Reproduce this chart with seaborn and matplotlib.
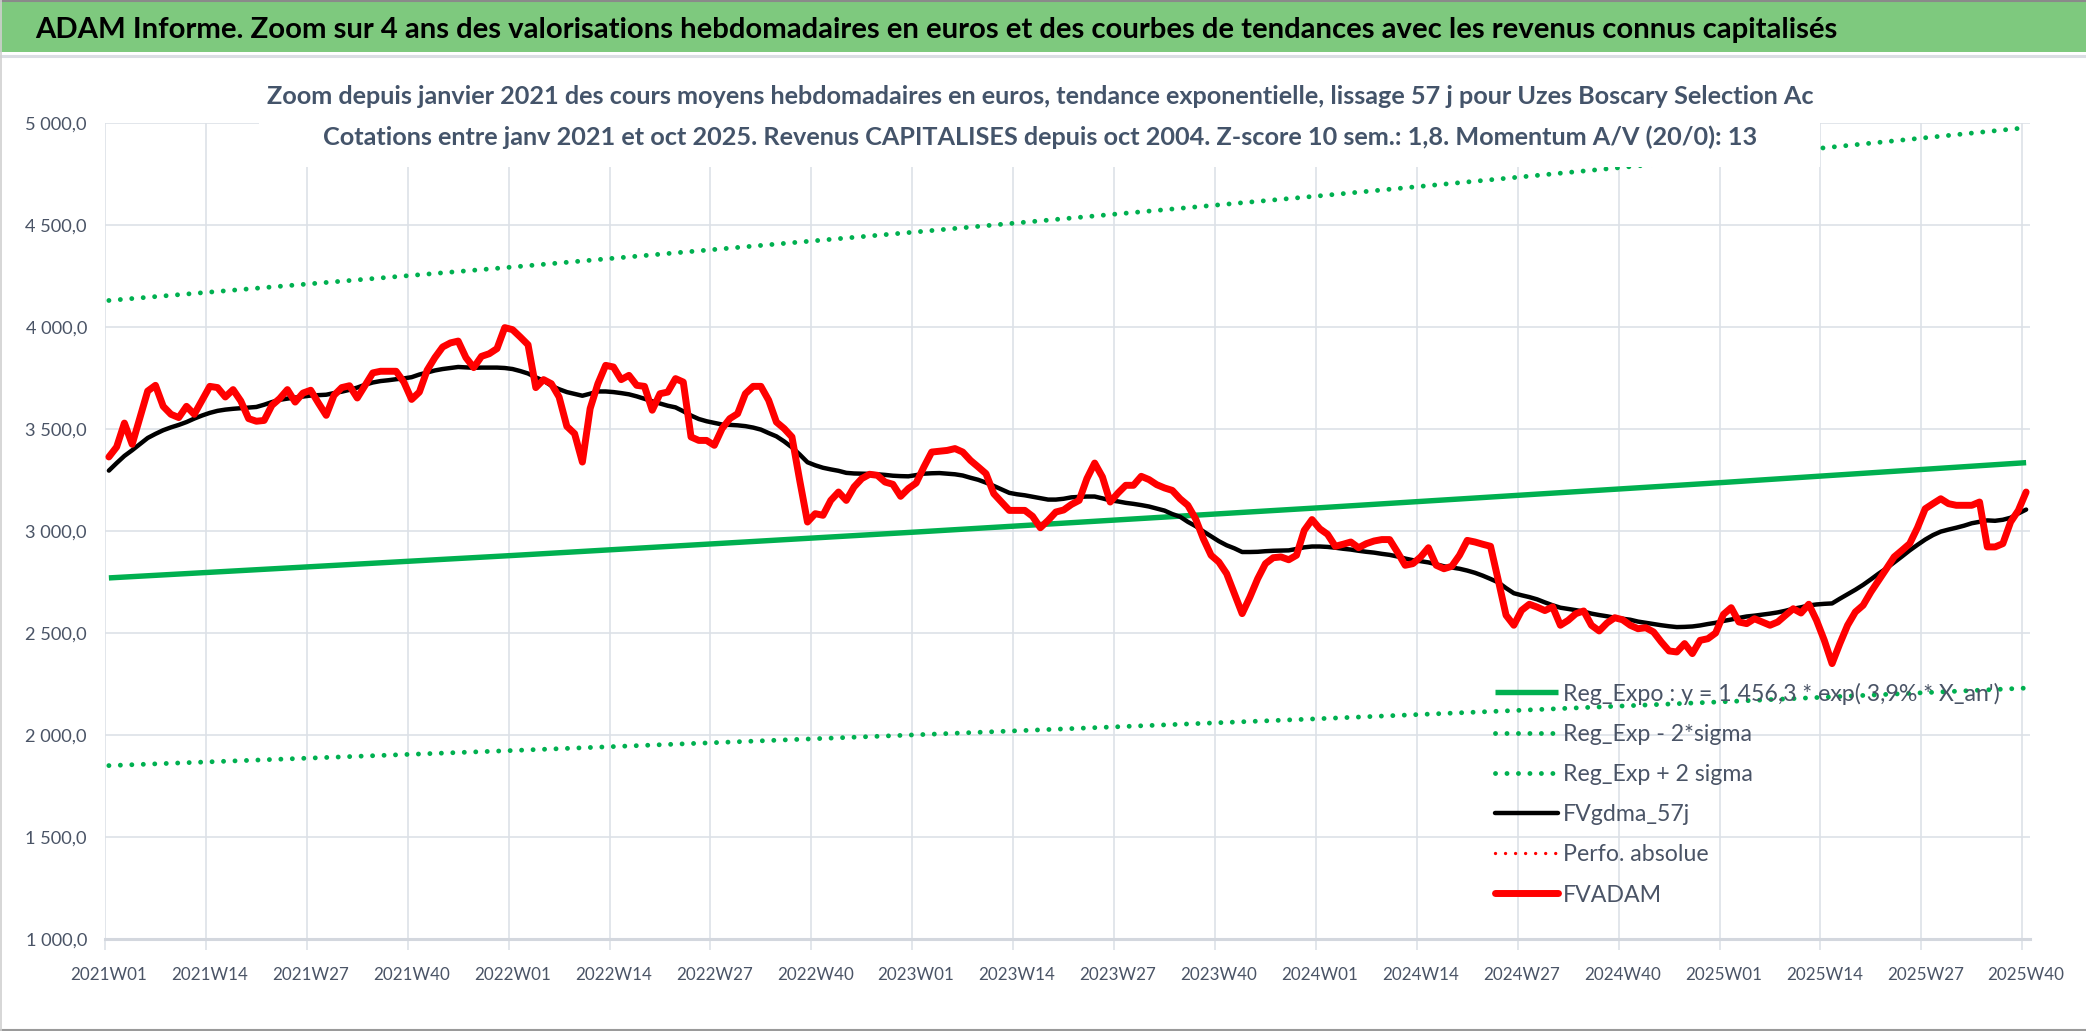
import numpy as np
import pandas as pd
import matplotlib
matplotlib.use("Agg")
import matplotlib.pyplot as plt
import seaborn as sns
from matplotlib.patches import Rectangle
from matplotlib.lines import Line2D
from matplotlib.ticker import FixedLocator, FuncFormatter

# ---------------- data ----------------
FVADAM = [
    3363, 3412, 3529, 3425, 3556, 3686, 3714, 3611, 3572, 3556,
    3611, 3572, 3641, 3709, 3703, 3657, 3693, 3637, 3551, 3538,
    3542, 3616, 3649, 3693, 3632, 3676, 3690, 3627, 3567, 3665,
    3703, 3712, 3652, 3714, 3775, 3783, 3783, 3783, 3730, 3645,
    3681, 3788, 3850, 3902, 3922, 3931, 3850, 3801, 3856, 3869,
    3894, 3997, 3987, 3951, 3913, 3703, 3742, 3722, 3657, 3513,
    3477, 3338, 3600, 3722, 3812, 3804, 3742, 3763, 3714, 3709,
    3592, 3673, 3681, 3747, 3730, 3461, 3444, 3444, 3420, 3502,
    3551, 3575, 3673, 3709, 3709, 3641, 3534, 3502, 3461, 3248,
    3044, 3085, 3077, 3150, 3191, 3150, 3216, 3257, 3278, 3273,
    3240, 3229, 3170, 3208, 3235, 3314, 3387, 3391, 3395, 3404,
    3387, 3346, 3314, 3281, 3183, 3142, 3101, 3101, 3101, 3072,
    3016, 3052, 3093, 3103, 3130, 3150, 3257, 3333, 3265, 3142,
    3186, 3224, 3224, 3268, 3252, 3227, 3211, 3199, 3158, 3126,
    3060, 2962, 2881, 2848, 2791, 2693, 2595, 2676, 2766, 2840,
    2869, 2873, 2859, 2881, 3003, 3056, 3011, 2984, 2925, 2935,
    2946, 2918, 2938, 2951, 2958, 2958, 2897, 2832, 2840, 2873,
    2918, 2832, 2815, 2827, 2881, 2954, 2946, 2935, 2925, 2758,
    2587, 2538, 2611, 2641, 2627, 2610, 2628, 2538, 2562, 2595,
    2608, 2538, 2510, 2549, 2575, 2565, 2538, 2521, 2526, 2505,
    2456, 2412, 2407, 2448, 2399, 2464, 2472, 2500, 2591, 2624,
    2554, 2546, 2570, 2554, 2538, 2554, 2587, 2619, 2598, 2641,
    2562, 2464, 2350, 2448, 2538, 2603, 2636, 2701, 2758, 2815,
    2873, 2905, 2938, 3016, 3109, 3134, 3158, 3134, 3126, 3126,
    3126, 3142, 2922, 2922, 2938, 3044, 3101, 3191,
]

FVGDMA_57J = [
    3296, 3333, 3368, 3396, 3426, 3456, 3476, 3494, 3508, 3520,
    3534, 3551, 3566, 3579, 3589, 3595, 3599, 3602, 3605, 3608,
    3619, 3632, 3643, 3649, 3654, 3659, 3664, 3666, 3668, 3676,
    3683, 3692, 3703, 3717, 3728, 3735, 3739, 3744, 3748, 3754,
    3767, 3777, 3787, 3794, 3799, 3804, 3802, 3800, 3801, 3801,
    3801, 3799, 3794, 3784, 3772, 3753, 3737, 3712, 3695, 3681,
    3672, 3663, 3673, 3684, 3684, 3681, 3676, 3670, 3660, 3648,
    3636, 3625, 3614, 3606, 3587, 3566, 3549, 3538, 3530, 3522,
    3520, 3518, 3514, 3507, 3497, 3480, 3464, 3439, 3410, 3375,
    3337, 3322, 3310, 3302, 3295, 3285, 3282, 3281, 3280, 3278,
    3275, 3271, 3269, 3268, 3274, 3281, 3283, 3284, 3281, 3278,
    3272, 3261, 3251, 3237, 3221, 3204, 3187, 3180, 3175, 3168,
    3161, 3154, 3154, 3158, 3165, 3167, 3169, 3169, 3160, 3150,
    3145, 3138, 3133, 3127, 3120, 3110, 3100, 3083, 3070, 3045,
    3024, 2998, 2974, 2950, 2930, 2915, 2897, 2897, 2898, 2901,
    2903, 2904, 2905, 2912, 2920, 2924, 2924, 2922, 2918, 2913,
    2909, 2903, 2898, 2894, 2888, 2883, 2875, 2865, 2857, 2852,
    2846, 2837, 2827, 2821, 2815, 2806, 2795, 2781, 2765, 2748,
    2720, 2695, 2685, 2676, 2665, 2650, 2636, 2624, 2618, 2612,
    2605, 2595, 2588, 2582, 2575, 2570, 2565, 2556, 2550, 2544,
    2538, 2533, 2529, 2530, 2532, 2537, 2544, 2550, 2559, 2566,
    2574, 2581, 2585, 2590, 2595, 2601, 2609, 2619, 2626, 2635,
    2640, 2643, 2645, 2668, 2690, 2712, 2736, 2763, 2791, 2817,
    2846, 2875, 2905, 2932, 2958, 2980, 2997, 3007, 3016, 3026,
    3038, 3045, 3052, 3050, 3055, 3065, 3086, 3105,
]

TREND_WEEKS = [0, 52, 104, 156, 208, 247]
REG_EXPO = [2770, 2880, 2995, 3114, 3238, 3335]
REG_MINUS_2SIGMA = [1850, 1924, 2001, 2080, 2163, 2230]
REG_PLUS_2SIGMA = [4130, 4294, 4466, 4643, 4829, 4977]

TICK_LABELS = ["2021W01", "2021W14", "2021W27", "2021W40",
               "2022W01", "2022W14", "2022W27", "2022W40",
               "2023W01", "2023W14", "2023W27", "2023W40",
               "2024W01", "2024W14", "2024W27", "2024W40",
               "2025W01", "2025W14", "2025W27", "2025W40"]
TICK_STEP = 13
Y_TICKS = [1000, 1500, 2000, 2500, 3000, 3500, 4000, 4500, 5000]

LEGEND_LABELS = ["Reg_Expo : y = 1 456,3 * exp( 3,9% * X_an')",
                 "Reg_Exp - 2*sigma",
                 "Reg_Exp + 2 sigma",
                 "FVgdma_57j",
                 "Perfo. absolue",
                 "FVADAM"]

TITLE = ("ADAM Informe. Zoom sur 4 ans des valorisations hebdomadaires en euros "
         "et des courbes de tendances avec les revenus connus capitalisés")
SUB1 = ("Zoom depuis janvier 2021 des cours moyens hebdomadaires en euros, "
        "tendance exponentielle, lissage 57 j pour Uzes Boscary Selection Ac")
SUB2 = ("Cotations entre janv 2021 et oct 2025. Revenus CAPITALISES depuis oct 2004. "
        "Z-score 10 sem.: 1,8. Momentum A/V (20/0): 13")

# ---------------- style ----------------
sns.set_theme(style="white")
plt.rcParams["font.family"] = ["Liberation Sans Narrow", "Lato", "DejaVu Sans"]

W, H, DPI = 2086, 1031, 100
GREEN = "#00B050"
RED = "#FF0000"
GRID = "#DDE1E7"
TXT = "#4A5466"
SUBTXT = "#44546A"

fig = plt.figure(figsize=(W / DPI, H / DPI), dpi=DPI)
fig.patch.set_facecolor("white")
renderer = fig.canvas.get_renderer()


def fit_size(s, target_px, base=20, **kw):
    t = fig.text(0, 0, s, fontsize=base, **kw)
    w = t.get_window_extent(renderer).width
    t.remove()
    return base * target_px / w


def text_h(s, size, **kw):
    t = fig.text(0, 0, s, fontsize=size, **kw)
    h = t.get_window_extent(renderer).height
    t.remove()
    return h


L, R, T, B = 105, 2030, 123, 939
ax = fig.add_axes([L / W, 1 - B / H, (R - L) / W, (B - T) / H])
ax.set_facecolor("white")

weeks = np.arange(len(FVADAM))
df = pd.DataFrame({"week": weeks, "FVADAM": FVADAM, "FVgdma": FVGDMA_57J})
trend = pd.DataFrame({"week": TREND_WEEKS, "reg": REG_EXPO,
                      "minus": REG_MINUS_2SIGMA, "plus": REG_PLUS_2SIGMA})

dot_kw = dict(linestyle=(0, (0.01, 2.35)), dash_capstyle="round")
sns.lineplot(data=trend, x="week", y="reg", ax=ax, color=GREEN, lw=3.9,
             label=LEGEND_LABELS[0], solid_capstyle="butt")
sns.lineplot(data=trend, x="week", y="minus", ax=ax, color=GREEN, lw=3.5,
             label=LEGEND_LABELS[1], **dot_kw)
sns.lineplot(data=trend, x="week", y="plus", ax=ax, color=GREEN, lw=3.5,
             label=LEGEND_LABELS[2], **dot_kw)
sns.lineplot(data=df, x="week", y="FVgdma", ax=ax, color="black", lw=3.2,
             label=LEGEND_LABELS[3], solid_joinstyle="round", solid_capstyle="round")
ax.plot([], [], color=RED, lw=2.4, linestyle=(0, (0.01, 3.0)),
        dash_capstyle="round", label=LEGEND_LABELS[4])
sns.lineplot(data=df, x="week", y="FVADAM", ax=ax, color=RED, lw=5.0,
             label=LEGEND_LABELS[5], solid_joinstyle="round", solid_capstyle="round")

ax.set_xlabel("")
ax.set_ylabel("")
ax.set_xlim(-0.5, len(FVADAM) - 0.5)
ax.set_ylim(Y_TICKS[0], Y_TICKS[-1])

tick_pos = [TICK_STEP * i for i in range(len(TICK_LABELS))]
bounds = [p - 0.5 for p in tick_pos]
ax.xaxis.set_major_locator(FixedLocator(bounds))
ax.xaxis.set_major_formatter(FuncFormatter(lambda v, p: ""))
ax.set_xticks(tick_pos, minor=True)
xl_size = fit_size("2021W01", 77)
ax.set_xticklabels(TICK_LABELS, minor=True, fontsize=xl_size, color=TXT)
ax.tick_params(axis="x", which="major", length=8, width=1.2, color=GRID, bottom=True)
ax.tick_params(axis="x", which="minor", length=0, pad=20, bottom=True)

ax.yaxis.set_major_locator(FixedLocator(Y_TICKS))
ax.yaxis.set_major_formatter(FuncFormatter(lambda v, p: f"{int(round(v)):,}".replace(",", " ") + ",0"))
yl_size = fit_size("5 000,0", 62)
ax.tick_params(axis="y", which="major", length=0, pad=13, labelsize=yl_size, labelcolor=TXT)

ax.grid(True, axis="both", which="major", color=GRID, lw=1.2)
ax.set_axisbelow(True)
for s in ["top", "right", "left"]:
    ax.spines[s].set_visible(False)
ax.spines["bottom"].set_color("#D3D7DE")
ax.spines["bottom"].set_linewidth(2.2)

# ---------------- legend ----------------
lg_size = fit_size(LEGEND_LABELS[1], 189)
lg_px = lg_size / 72 * DPI
row_h = text_h("Reg_Exp", lg_size)
spacing = max((40.2 - row_h) / lg_px, 0.1)
handles, labels = ax.get_legend_handles_labels()
leg = ax.legend(handles, labels, loc="upper left",
                bbox_to_anchor=(1495 / W, 1 - (693 - row_h / 2) / H),
                bbox_transform=fig.transFigure, frameon=False,
                fontsize=lg_size, labelspacing=spacing, borderpad=0,
                borderaxespad=0, handlelength=63 / lg_px,
                handletextpad=5 / lg_px, labelcolor=TXT)
leg.set_zorder(3)

# ---------------- title band & subtitle box ----------------
fig.add_artist(Rectangle((0, 1 - 52 / H), 1, 52 / H, transform=fig.transFigure,
                         facecolor="#7EC97E", edgecolor="none", zorder=5))
fig.add_artist(Line2D([0, 1], [1 - 1 / H, 1 - 1 / H], transform=fig.transFigure,
                      color="#8A8A8A", lw=1.5, zorder=6))
fig.add_artist(Line2D([0, 1], [1 - 56 / H, 1 - 56 / H], transform=fig.transFigure,
                      color="#DADDE3", lw=2.2, zorder=6))
t_size = fit_size(TITLE, 1803, weight="bold")
fig.text(35 / W, 1 - 30 / H, TITLE, fontsize=t_size, weight="bold",
         color="black", ha="left", va="center", zorder=7)

fig.add_artist(Rectangle((259 / W, 1 - 167 / H), (1820 - 259) / W, (167 - 62) / H,
                         transform=fig.transFigure, facecolor="white",
                         edgecolor="none", zorder=5))
s1 = fit_size(SUB1, 1549, weight="bold")
fig.text(1040 / W, 1 - 97 / H, SUB1, fontsize=s1, weight="bold", color=SUBTXT,
         ha="center", va="center", zorder=7)
fig.text(1040 / W, 1 - 137 / H, SUB2, fontsize=s1, weight="bold", color=SUBTXT,
         ha="center", va="center", zorder=7)

# outer frame
fig.add_artist(Line2D([0, 1], [1.5 / H, 1.5 / H], transform=fig.transFigure,
                      color="#9A9A9A", lw=1.5, zorder=6))
fig.add_artist(Line2D([0.5 / W, 0.5 / W], [0, 1], transform=fig.transFigure,
                      color="#D0D0D0", lw=1.2, zorder=6))

fig.savefig("out.png", dpi=DPI, facecolor="white")
